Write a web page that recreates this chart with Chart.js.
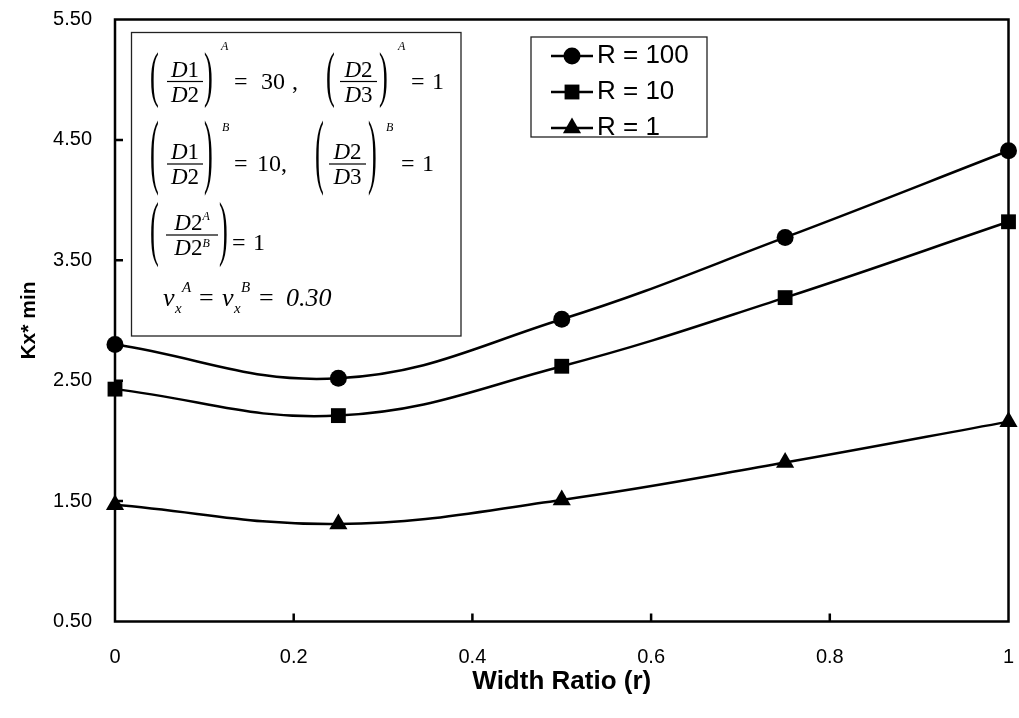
<!DOCTYPE html>
<html>
<head>
<meta charset="utf-8">
<script src="https://cdn.jsdelivr.net/npm/chart.js@4.4.1/dist/chart.umd.min.js"></script>
<style>
  html, body { margin: 0; padding: 0; background: #fff; }
  #wrap { width: 1019px; height: 718px; }
</style>
</head>
<body>
<div id="wrap"><canvas id="kxChart" width="1019" height="718"></canvas></div>
<script>
// dados
const widthRatio = [0, 0.25, 0.5, 0.75, 1];
const kxR100 = [2.80, 2.52, 3.01, 3.69, 4.41];
const kxR10 = [2.43, 2.21, 2.62, 3.19, 3.82];
const kxR1 = [1.47, 1.31, 1.51, 1.82, 2.16];
const seriesLabels = ['R = 100', 'R = 10', 'R = 1'];
const seriesMarkers = ['circle', 'rect', 'triangle'];
const xTicks = [0, 0.2, 0.4, 0.6, 0.8, 1];
const yTicks = [0.5, 1.5, 2.5, 3.5, 4.5, 5.5];

const SANS = '"Liberation Sans", Arial, sans-serif';
const SERIF = '"Liberation Serif", "Times New Roman", serif';

function toPoints(xs, ys) {
    return xs.map((x, i) => ({ x: x, y: ys[i] }));
}

// tamanho do marcador por estilo (circulo, quadrado, triangulo)
const markerRadius = { circle: 8.5, rect: 10.5, triangle: 10.5 };

function makeDataset(label, values, marker) {
    return {
        label: label,
        data: toPoints(widthRatio, values),
        borderColor: '#000',
        backgroundColor: '#000',
        borderWidth: 2.5,
        pointStyle: marker,
        pointRadius: markerRadius[marker],
        pointBorderWidth: 0,
        pointBackgroundColor: '#000',
        tension: 0.4,
        clip: false
    };
}

// moldura do gráfico + ticks para dentro
const framePlugin = {
    id: 'frame',
    beforeDatasetsDraw(chart) {
        const { ctx, chartArea: a, scales } = chart;
        ctx.save();
        ctx.strokeStyle = '#000';
        ctx.lineWidth = 2.5;
        ctx.strokeRect(a.left, a.top, a.right - a.left, a.bottom - a.top);
        ctx.beginPath();
        xTicks.slice(1, -1).forEach(v => {
            const px = scales.x.getPixelForValue(v);
            ctx.moveTo(px, a.bottom);
            ctx.lineTo(px, a.bottom - 8);
        });
        yTicks.slice(1, -1).forEach(v => {
            const py = scales.y.getPixelForValue(v);
            ctx.moveTo(a.left, py);
            ctx.lineTo(a.left + 8, py);
        });
        ctx.stroke();
        ctx.restore();
    }
};

// helpers para escrever as fórmulas
function run(ctx, pieces, x, y) {
    let cx = x;
    pieces.forEach(p => {
        ctx.font = p.f;
        ctx.fillText(p.t, cx, y + (p.dy || 0));
        cx += ctx.measureText(p.t).width + (p.gap || 0);
    });
    return cx - x;
}
function runWidth(ctx, pieces) {
    let w = 0;
    pieces.forEach(p => { ctx.font = p.f; w += ctx.measureText(p.t).width + (p.gap || 0); });
    return w;
}
function paren(ctx, ch, x, top, bottom) {
    ctx.save();
    ctx.font = '24px ' + SERIF;
    ctx.textBaseline = 'alphabetic';
    const h = bottom - top;
    ctx.translate(x, top);
    ctx.scale(1.1, h / 21.8);
    ctx.fillText(ch, 0, 16.6);
    ctx.restore();
}
function frac(ctx, num, den, x0, x1, barY) {
    const cx = (x0 + x1) / 2;
    run(ctx, num, cx - runWidth(ctx, num) / 2, barY - 5);
    run(ctx, den, cx - runWidth(ctx, den) / 2, barY + 20);
    ctx.fillRect(x0, barY - 0.6, x1 - x0, 1.2);
}

const I22 = 'italic 23px ' + SERIF;
const R22 = '23px ' + SERIF;
const R24 = '24px ' + SERIF;
const I12 = 'italic 12px ' + SERIF;

const formulaPlugin = {
    id: 'formulas',
    beforeDatasetsDraw(chart) {
        const ctx = chart.ctx;
        ctx.save();
        ctx.fillStyle = '#fff';
        ctx.fillRect(131.5, 32.5, 329.5, 303.5);
        ctx.strokeStyle = '#222';
        ctx.lineWidth = 1.3;
        ctx.strokeRect(131.5, 32.5, 329.5, 303.5);
        ctx.fillStyle = '#000';
        ctx.textBaseline = 'alphabetic';

        // linha 1
        paren(ctx, '(', 150, 53, 108);
        frac(ctx, [{ t: 'D', f: I22 }, { t: '1', f: R22 }], [{ t: 'D', f: I22 }, { t: '2', f: R22 }], 167, 203, 81.5);
        paren(ctx, ')', 204, 53, 108);
        run(ctx, [{ t: 'A', f: I12 }], 221, 50);
        run(ctx, [{ t: '=', f: R24 }], 234, 89);
        run(ctx, [{ t: '30', f: R24 }], 261, 89);
        run(ctx, [{ t: ',', f: R24 }], 292, 89);
        paren(ctx, '(', 326, 53, 108);
        frac(ctx, [{ t: 'D', f: I22 }, { t: '2', f: R22 }], [{ t: 'D', f: I22 }, { t: '3', f: R22 }], 340, 377, 81.5);
        paren(ctx, ')', 379, 53, 108);
        run(ctx, [{ t: 'A', f: I12 }], 398, 50);
        run(ctx, [{ t: '=', f: R24 }], 411, 89);
        run(ctx, [{ t: '1', f: R24 }], 432, 89);

        // linha 2
        paren(ctx, '(', 150, 122, 196);
        frac(ctx, [{ t: 'D', f: I22 }, { t: '1', f: R22 }], [{ t: 'D', f: I22 }, { t: '2', f: R22 }], 167, 203, 164);
        paren(ctx, ')', 204, 122, 196);
        run(ctx, [{ t: 'B', f: I12 }], 222, 131);
        run(ctx, [{ t: '=', f: R24 }], 234, 171);
        run(ctx, [{ t: '10,', f: R24 }], 257, 171);
        paren(ctx, '(', 315, 122, 196);
        frac(ctx, [{ t: 'D', f: I22 }, { t: '2', f: R22 }], [{ t: 'D', f: I22 }, { t: '3', f: R22 }], 329, 366, 164);
        paren(ctx, ')', 368, 122, 196);
        run(ctx, [{ t: 'B', f: I12 }], 386, 131);
        run(ctx, [{ t: '=', f: R24 }], 401, 171);
        run(ctx, [{ t: '1', f: R24 }], 422, 171);

        // linha 3
        paren(ctx, '(', 150, 202, 268);
        frac(ctx,
            [{ t: 'D', f: I22 }, { t: '2', f: R22 }, { t: 'A', f: I12, dy: -10 }],
            [{ t: 'D', f: I22 }, { t: '2', f: R22 }, { t: 'B', f: I12, dy: -8 }],
            166, 218, 235);
        paren(ctx, ')', 219, 202, 268);
        run(ctx, [{ t: '=', f: R24 }], 232, 250);
        run(ctx, [{ t: '1', f: R24 }], 253, 250);

        // linha 4
        const I26 = 'italic 26px ' + SERIF;
        const I16 = 'italic 15px ' + SERIF;
        const R26 = '26px ' + SERIF;
        run(ctx, [{ t: 'v', f: I26 }], 163, 306);
        run(ctx, [{ t: 'x', f: I16 }], 175, 313);
        run(ctx, [{ t: 'A', f: I16 }], 182, 292);
        run(ctx, [{ t: '=', f: R26 }], 199, 306);
        run(ctx, [{ t: 'v', f: I26 }], 222, 306);
        run(ctx, [{ t: 'x', f: I16 }], 234, 313);
        run(ctx, [{ t: 'B', f: I16 }], 241, 292);
        run(ctx, [{ t: '=', f: R26 }], 259, 306);
        run(ctx, [{ t: '0.30', f: I26 }], 286, 306);
        ctx.restore();
    }
};

// legenda desenhada dentro da área do gráfico
const legendPlugin = {
    id: 'insideLegend',
    afterDatasetsDraw(chart) {
        const ctx = chart.ctx;
        ctx.save();
        ctx.fillStyle = '#fff';
        ctx.fillRect(531, 37, 176, 100);
        ctx.strokeStyle = '#222';
        ctx.lineWidth = 1.3;
        ctx.strokeRect(531, 37, 176, 100);
        const rows = [56, 92, 128];
        chart.data.datasets.forEach((ds, i) => {
            const y = rows[i];
            ctx.strokeStyle = '#000';
            ctx.fillStyle = '#000';
            ctx.lineWidth = 2.5;
            ctx.beginPath();
            ctx.moveTo(551, y);
            ctx.lineTo(593, y);
            ctx.stroke();
            Chart.helpers.drawPoint(ctx, { pointStyle: ds.pointStyle, radius: ds.pointRadius, rotation: 0, borderWidth: 0 }, 572, y);
            ctx.font = '26px ' + SANS;
            ctx.textBaseline = 'middle';
            ctx.fillText(ds.label, 597, y);
        });
        ctx.restore();
    }
};

const chart = new Chart(document.getElementById('kxChart').getContext('2d'), {
    type: 'line',
    data: {
        datasets: [
            makeDataset(seriesLabels[0], kxR100, seriesMarkers[0]),
            makeDataset(seriesLabels[1], kxR10, seriesMarkers[1]),
            makeDataset(seriesLabels[2], kxR1, seriesMarkers[2])
        ]
    },
    options: {
        responsive: false,
        animation: false,
        events: [],
        layout: { padding: { top: 19.5, right: 2, left: 0, bottom: 0 } },
        plugins: { legend: { display: false }, tooltip: { enabled: false } },
        scales: {
            x: {
                type: 'linear',
                min: 0, max: 1,
                afterBuildTicks: s => { s.ticks = xTicks.map(v => ({ value: v })); },
                afterFit: s => { s.height = 96.5; s.paddingLeft = 0; s.paddingRight = 0; },
                grid: { display: false, drawTicks: false },
                border: { display: false },
                ticks: {
                    color: '#000',
                    padding: 24,
                    maxRotation: 0,
                    font: { family: SANS, size: 20 },
                    callback: v => String(v)
                },
                title: {
                    display: true,
                    text: 'Width Ratio (r)',
                    color: '#000',
                    font: { family: SANS, size: 26, weight: 'bold' },
                    padding: { top: 0, bottom: 21 }
                }
            },
            y: {
                type: 'linear',
                min: 0.5, max: 5.5,
                afterBuildTicks: s => { s.ticks = yTicks.map(v => ({ value: v })); },
                afterFit: s => { s.width = 115; s.paddingTop = 0; s.paddingBottom = 0; },
                grid: { display: false, drawTicks: false },
                border: { display: false },
                ticks: {
                    color: '#000',
                    padding: 23,
                    font: { family: SANS, size: 20 },
                    callback: v => v.toFixed(2)
                },
                title: {
                    display: true,
                    text: 'Kx* min',
                    color: '#000',
                    font: { family: SANS, size: 21, weight: 'bold' },
                    padding: { top: 17, bottom: 0 }
                }
            }
        }
    },
    plugins: [framePlugin, formulaPlugin, legendPlugin]
});
</script>
</body>
</html>
